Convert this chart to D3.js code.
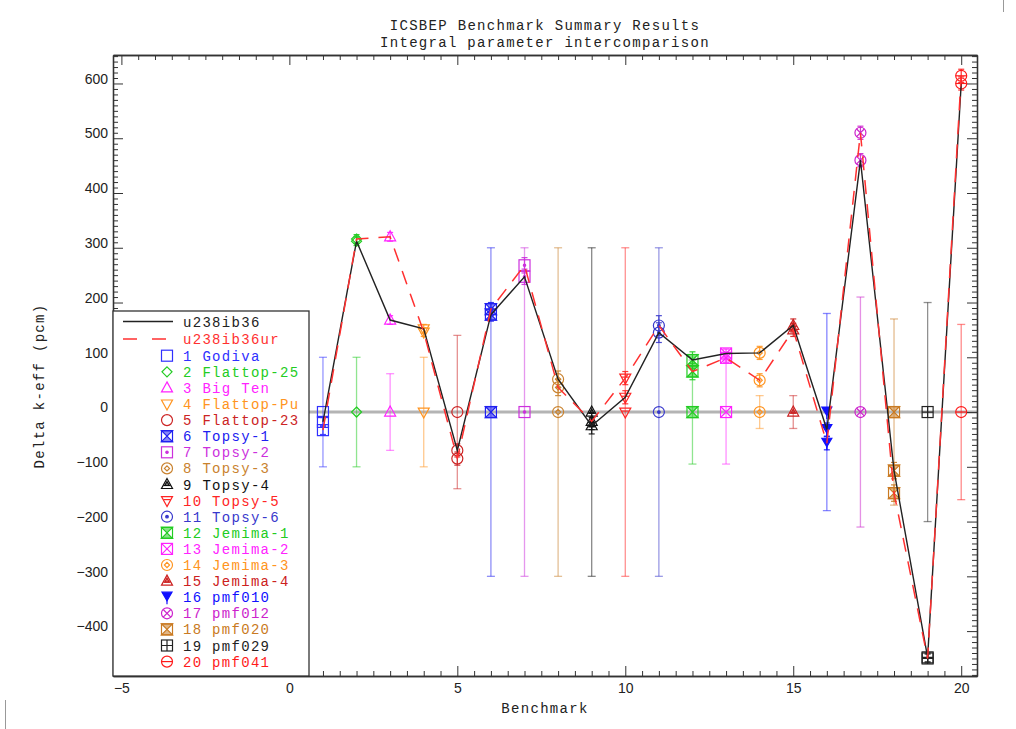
<!DOCTYPE html>
<html>
<head>
<meta charset="utf-8">
<script src="https://cdn.jsdelivr.net/npm/d3@7"></script>
<style>
  html, body { margin: 0; padding: 0; background: #fff; }
  svg { display: block; }
  .mono { font-family: "Liberation Mono", "DejaVu Sans Mono", monospace; }
  .tick text { font-family: "Liberation Sans", Arial, sans-serif; font-size: 14px; fill: #222; }
</style>
</head>
<body>
<svg id="chart" width="1016" height="729"></svg>
<script>
// Benchmark identifiers and names
const benchIds = d3.range(1, 21);
const benchNames = ["Godiva", "Flattop-25", "Big Ten", "Flattop-Pu", "Flattop-23",
  "Topsy-1", "Topsy-2", "Topsy-3", "Topsy-4", "Topsy-5", "Topsy-6",
  "Jemima-1", "Jemima-2", "Jemima-3", "Jemima-4",
  "pmf010", "pmf012", "pmf020", "pmf029", "pmf041"];

// Experimental uncertainty (pcm), plotted around zero
const expUnc = [100, 100, 70, 100, 140, 300, 300, 300, 300, 300, 300, 95, 95, 30, 30, 180, 210, 170, 200, 160];

// Calculated minus experimental k-eff (pcm) for the two libraries
const seriesNames = ["u238ib36", "u238ib36ur"];
const calcIb36 = [-18, 312, 168, 152, -70, 178, 247, 60, -25, 27, 145, 95, 107, 108, 158, -32, 460, -107, -448, 600];
const calcIb36ur = [-33, 316, 320, 146, -85, 188, 268, 45, -17, 62, 158, 74, 99, 58, 150, -57, 510, -148, -450, 614];
// Statistical uncertainty of the calculations (pcm)
const calcUnc = [8, 8, 8, 8, 12, 12, 14, 15, 15, 12, 18, 15, 8, 12, 12, 12, 12, 15, 8, 12];

// Per-benchmark colour and symbol
const benchColors = ["#3030ff", "#22cc22", "#ff22ff", "#ff9420", "#cc2424",
  "#2020f0", "#cc30dd", "#c9822e", "#111111", "#ff2424", "#3838cc",
  "#22cc22", "#ff22ff", "#ff9420", "#cc2020",
  "#1010ff", "#cc22cc", "#c97a22", "#222222", "#ff1a1a"];
const benchSymbols = ["square", "diamond", "triUp", "triDown", "circle",
  "hourglass", "squareDot", "diamondCircle", "triBar", "triDownBar", "circleDot",
  "hourglass", "squareX", "diamondCircle", "triBar",
  "triDownFilled", "circleX", "hourglass", "squarePlus", "circleBar"];

// Axis settings
const xMajorTicks = [-5, 0, 5, 10, 15, 20];
const yMajorTicks = [-400, -300, -200, -100, 0, 100, 200, 300, 400, 500, 600];

const svg = d3.select("#chart");
const plot = { left: 113, right: 977, top: 55, bottom: 676 };

const x = d3.scaleLinear().domain([-5.25, 20.47]).range([plot.left, plot.right]);
const y = d3.scaleLinear().domain([-482, 652]).range([plot.bottom, plot.top]);

const frameColor = "#333";

// Titles
const title = svg.append("g").attr("class", "mono").attr("fill", "#222")
  .style("font-size", "14px").style("letter-spacing", "1.3px").attr("text-anchor", "middle");
title.append("text").attr("x", 545).attr("y", 30).text("ICSBEP Benchmark Summary Results");
title.append("text").attr("x", 545).attr("y", 47).text("Integral parameter intercomparison");

svg.append("text").attr("class", "mono").attr("x", 545).attr("y", 713)
  .attr("text-anchor", "middle").style("font-size", "14px").style("letter-spacing", "1.3px")
  .attr("fill", "#222").text("Benchmark");
svg.append("text").attr("class", "mono")
  .attr("transform", "translate(44,386) rotate(-90)")
  .attr("text-anchor", "middle").style("font-size", "14px").style("letter-spacing", "1.3px")
  .attr("fill", "#222").text("Delta k-eff (pcm)");

// Zero reference line
svg.append("line")
  .attr("x1", x(-5.25)).attr("x2", x(20.47)).attr("y1", y(0)).attr("y2", y(0))
  .attr("stroke", "#b4b4b4").attr("stroke-width", 3);

// Marker drawing
function drawMarker(g, type, color) {
  const s = 5.5;
  const st = { stroke: color, "stroke-width": 1.2, fill: "none" };
  const add = (tag, attrs, style) => {
    const el = g.append(tag);
    Object.entries(Object.assign({}, st, style || {})).forEach(([k, v]) => el.attr(k, v));
    Object.entries(attrs).forEach(([k, v]) => el.attr(k, v));
    return el;
  };
  const rect = () => add("rect", { x: -s, y: -s, width: 2 * s, height: 2 * s });
  const circ = () => add("circle", { r: 5.5 });
  const triUp = () => add("path", { d: "M0,-6L5.5,4L-5.5,4Z" });
  const triDown = () => add("path", { d: "M0,6L5.5,-4L-5.5,-4Z" });
  switch (type) {
    case "square": rect(); break;
    case "diamond": add("path", { d: "M0,-5L5,0L0,5L-5,0Z" }); break;
    case "triUp": triUp(); break;
    case "triDown": triDown(); break;
    case "circle": circ(); break;
    case "hourglass":
      rect();
      add("path", { d: `M${-s},${-s}L${s},${-s}L${-s},${s}L${s},${s}Z` }, { fill: color, "fill-opacity": 0.55 });
      break;
    case "squareDot":
      rect();
      add("circle", { r: 1.2 }, { fill: color });
      break;
    case "diamondCircle":
      circ();
      add("path", { d: "M0,-2.6L2.6,0L0,2.6L-2.6,0Z" });
      break;
    case "triBar":
      triUp();
      add("path", { d: "M-3.5,1L3.5,1" });
      add("path", { d: "M0,-3L2.2,1L-2.2,1Z" }, { fill: color, "fill-opacity": 0.5 });
      break;
    case "triDownBar":
      triDown();
      add("path", { d: "M-3.5,-1L3.5,-1" });
      break;
    case "circleDot":
      circ();
      add("circle", { r: 1.3 }, { fill: color });
      break;
    case "squareX":
      rect();
      add("path", { d: `M${-s},${-s}L${s},${s}M${s},${-s}L${-s},${s}` });
      break;
    case "triDownFilled":
      add("path", { d: "M0,3.5L5,-5L-5,-5Z" }, { fill: color });
      add("path", { d: "M0,2L0,7" });
      break;
    case "circleX":
      circ();
      add("path", { d: "M-3.8,-3.8L3.8,3.8M3.8,-3.8L-3.8,3.8" });
      break;
    case "squarePlus":
      rect();
      add("path", { d: `M${-s},0L${s},0M0,${-s}L0,${s}` });
      break;
    case "circleBar":
      circ();
      add("path", { d: "M-5.5,0L5.5,0" });
      break;
  }
}

function errorBar(g, xv, lo, hi, color, cap, opacity, width) {
  const px = x(xv);
  const bar = g.append("g").attr("stroke", color).attr("stroke-opacity", opacity)
    .attr("stroke-width", width).attr("fill", "none");
  bar.append("line").attr("x1", px).attr("x2", px).attr("y1", y(lo)).attr("y2", y(hi));
  bar.append("line").attr("x1", px - cap).attr("x2", px + cap).attr("y1", y(lo)).attr("y2", y(lo));
  bar.append("line").attr("x1", px - cap).attr("x2", px + cap).attr("y1", y(hi)).attr("y2", y(hi));
}

// Experimental uncertainty bands around zero
const expLayer = svg.append("g");
benchIds.forEach((b, i) => {
  errorBar(expLayer, b, -expUnc[i], expUnc[i], benchColors[i], 4, 0.5, 1.3);
});
benchIds.forEach((b, i) => {
  const g = expLayer.append("g").attr("transform", `translate(${x(b)},${y(0)})`);
  drawMarker(g, benchSymbols[i], benchColors[i]);
});

// Calculation uncertainties
const calcLayer = svg.append("g");
[calcIb36, calcIb36ur].forEach(series => {
  benchIds.forEach((b, i) => {
    errorBar(calcLayer, b, series[i] - calcUnc[i], series[i] + calcUnc[i], benchColors[i], 3, 0.9, 1.2);
  });
});

// Calculated series lines
const line = d3.line().x((d, i) => x(benchIds[i])).y(d => y(d));
svg.append("path").datum(calcIb36).attr("d", line)
  .attr("fill", "none").attr("stroke", "#222").attr("stroke-width", 1.4);
svg.append("path").datum(calcIb36ur).attr("d", line)
  .attr("fill", "none").attr("stroke", "#ff3030").attr("stroke-width", 1.5)
  .attr("stroke-dasharray", "14,10");

// Calculated point markers
[calcIb36, calcIb36ur].forEach(series => {
  benchIds.forEach((b, i) => {
    const g = calcLayer.append("g").attr("transform", `translate(${x(b)},${y(series[i])})`);
    drawMarker(g, benchSymbols[i], benchColors[i]);
  });
});

// Axes with inward ticks on all four sides
const xMinor = d3.range(-5, 20.01, 0.5).filter(v => !xMajorTicks.includes(v));
const yMinor = d3.range(-480, 651, 10).filter(v => !yMajorTicks.includes(v));

function styleAxis(g) {
  g.selectAll(".domain").attr("stroke", frameColor).attr("stroke-width", 1.3);
  g.selectAll(".tick line").attr("stroke", frameColor);
}

svg.append("g").attr("transform", `translate(0,${plot.bottom})`)
  .call(d3.axisBottom(x).tickValues(xMinor).tickSize(-5).tickSizeOuter(0).tickFormat(""))
  .call(styleAxis);
svg.append("g").attr("transform", `translate(0,${plot.bottom})`)
  .call(d3.axisBottom(x).tickValues(xMajorTicks).tickSize(-10).tickSizeOuter(0).tickPadding(7)
    .tickFormat(d => d < 0 ? "\u2212" + Math.abs(d) : d))
  .call(styleAxis);
svg.append("g").attr("transform", `translate(0,${plot.top})`)
  .call(d3.axisTop(x).tickValues(xMinor).tickSize(-5).tickSizeOuter(0).tickFormat(""))
  .call(styleAxis);
svg.append("g").attr("transform", `translate(0,${plot.top})`)
  .call(d3.axisTop(x).tickValues(xMajorTicks).tickSize(-10).tickSizeOuter(0).tickFormat(""))
  .call(styleAxis);

svg.append("g").attr("transform", `translate(${plot.left},0)`)
  .call(d3.axisLeft(y).tickValues(yMinor).tickSize(-5).tickSizeOuter(0).tickFormat(""))
  .call(styleAxis);
const yAxisG = svg.append("g").attr("transform", `translate(${plot.left},0)`)
  .call(d3.axisLeft(y).tickValues(yMajorTicks).tickSize(-10).tickSizeOuter(0).tickPadding(5)
    .tickFormat(d => d < 0 ? "\u2212" + Math.abs(d) : d))
  .call(styleAxis);
yAxisG.selectAll(".tick text").attr("dy", "-0.02em");
svg.append("g").attr("transform", `translate(${plot.right},0)`)
  .call(d3.axisRight(y).tickValues(yMinor).tickSize(-5).tickSizeOuter(0).tickFormat(""))
  .call(styleAxis);
svg.append("g").attr("transform", `translate(${plot.right},0)`)
  .call(d3.axisRight(y).tickValues(yMajorTicks).tickSize(-10).tickSizeOuter(0).tickFormat(""))
  .call(styleAxis);

// Legend
const legend = svg.append("g");
legend.append("rect").attr("x", 113).attr("y", 311).attr("width", 196).attr("height", 365)
  .attr("fill", "#fff").attr("stroke", frameColor).attr("stroke-width", 1.3);
const legText = (yy, txt, color) => legend.append("text").attr("class", "mono")
  .attr("x", 183).attr("y", yy + 5).style("font-size", "14px").style("letter-spacing", "1.3px")
  .attr("fill", color).text(txt);

legend.append("line").attr("x1", 123).attr("x2", 173).attr("y1", 321.5).attr("y2", 321.5)
  .attr("stroke", "#222").attr("stroke-width", 1.3);
legText(321.5, seriesNames[0], "#222");
legend.append("line").attr("x1", 123).attr("x2", 173).attr("y1", 339).attr("y2", 339)
  .attr("stroke", "#ff3030").attr("stroke-width", 1.3).attr("stroke-dasharray", "14,15");
legText(339, seriesNames[1], "#ff3030");

benchIds.forEach((b, i) => {
  const yy = 355.7 + i * 16.1;
  const g = legend.append("g").attr("transform", `translate(167,${yy})`);
  drawMarker(g, benchSymbols[i], benchColors[i]);
  legText(yy, `${b} ${benchNames[i]}`, benchColors[i]);
});

// Page edge marks
svg.append("line").attr("x1", 1003.5).attr("x2", 1003.5).attr("y1", 0).attr("y2", 12)
  .attr("stroke", "#999").attr("stroke-width", 1);
svg.append("line").attr("x1", 5.5).attr("x2", 5.5).attr("y1", 700).attr("y2", 729)
  .attr("stroke", "#999").attr("stroke-width", 1);
</script>
</body>
</html>
